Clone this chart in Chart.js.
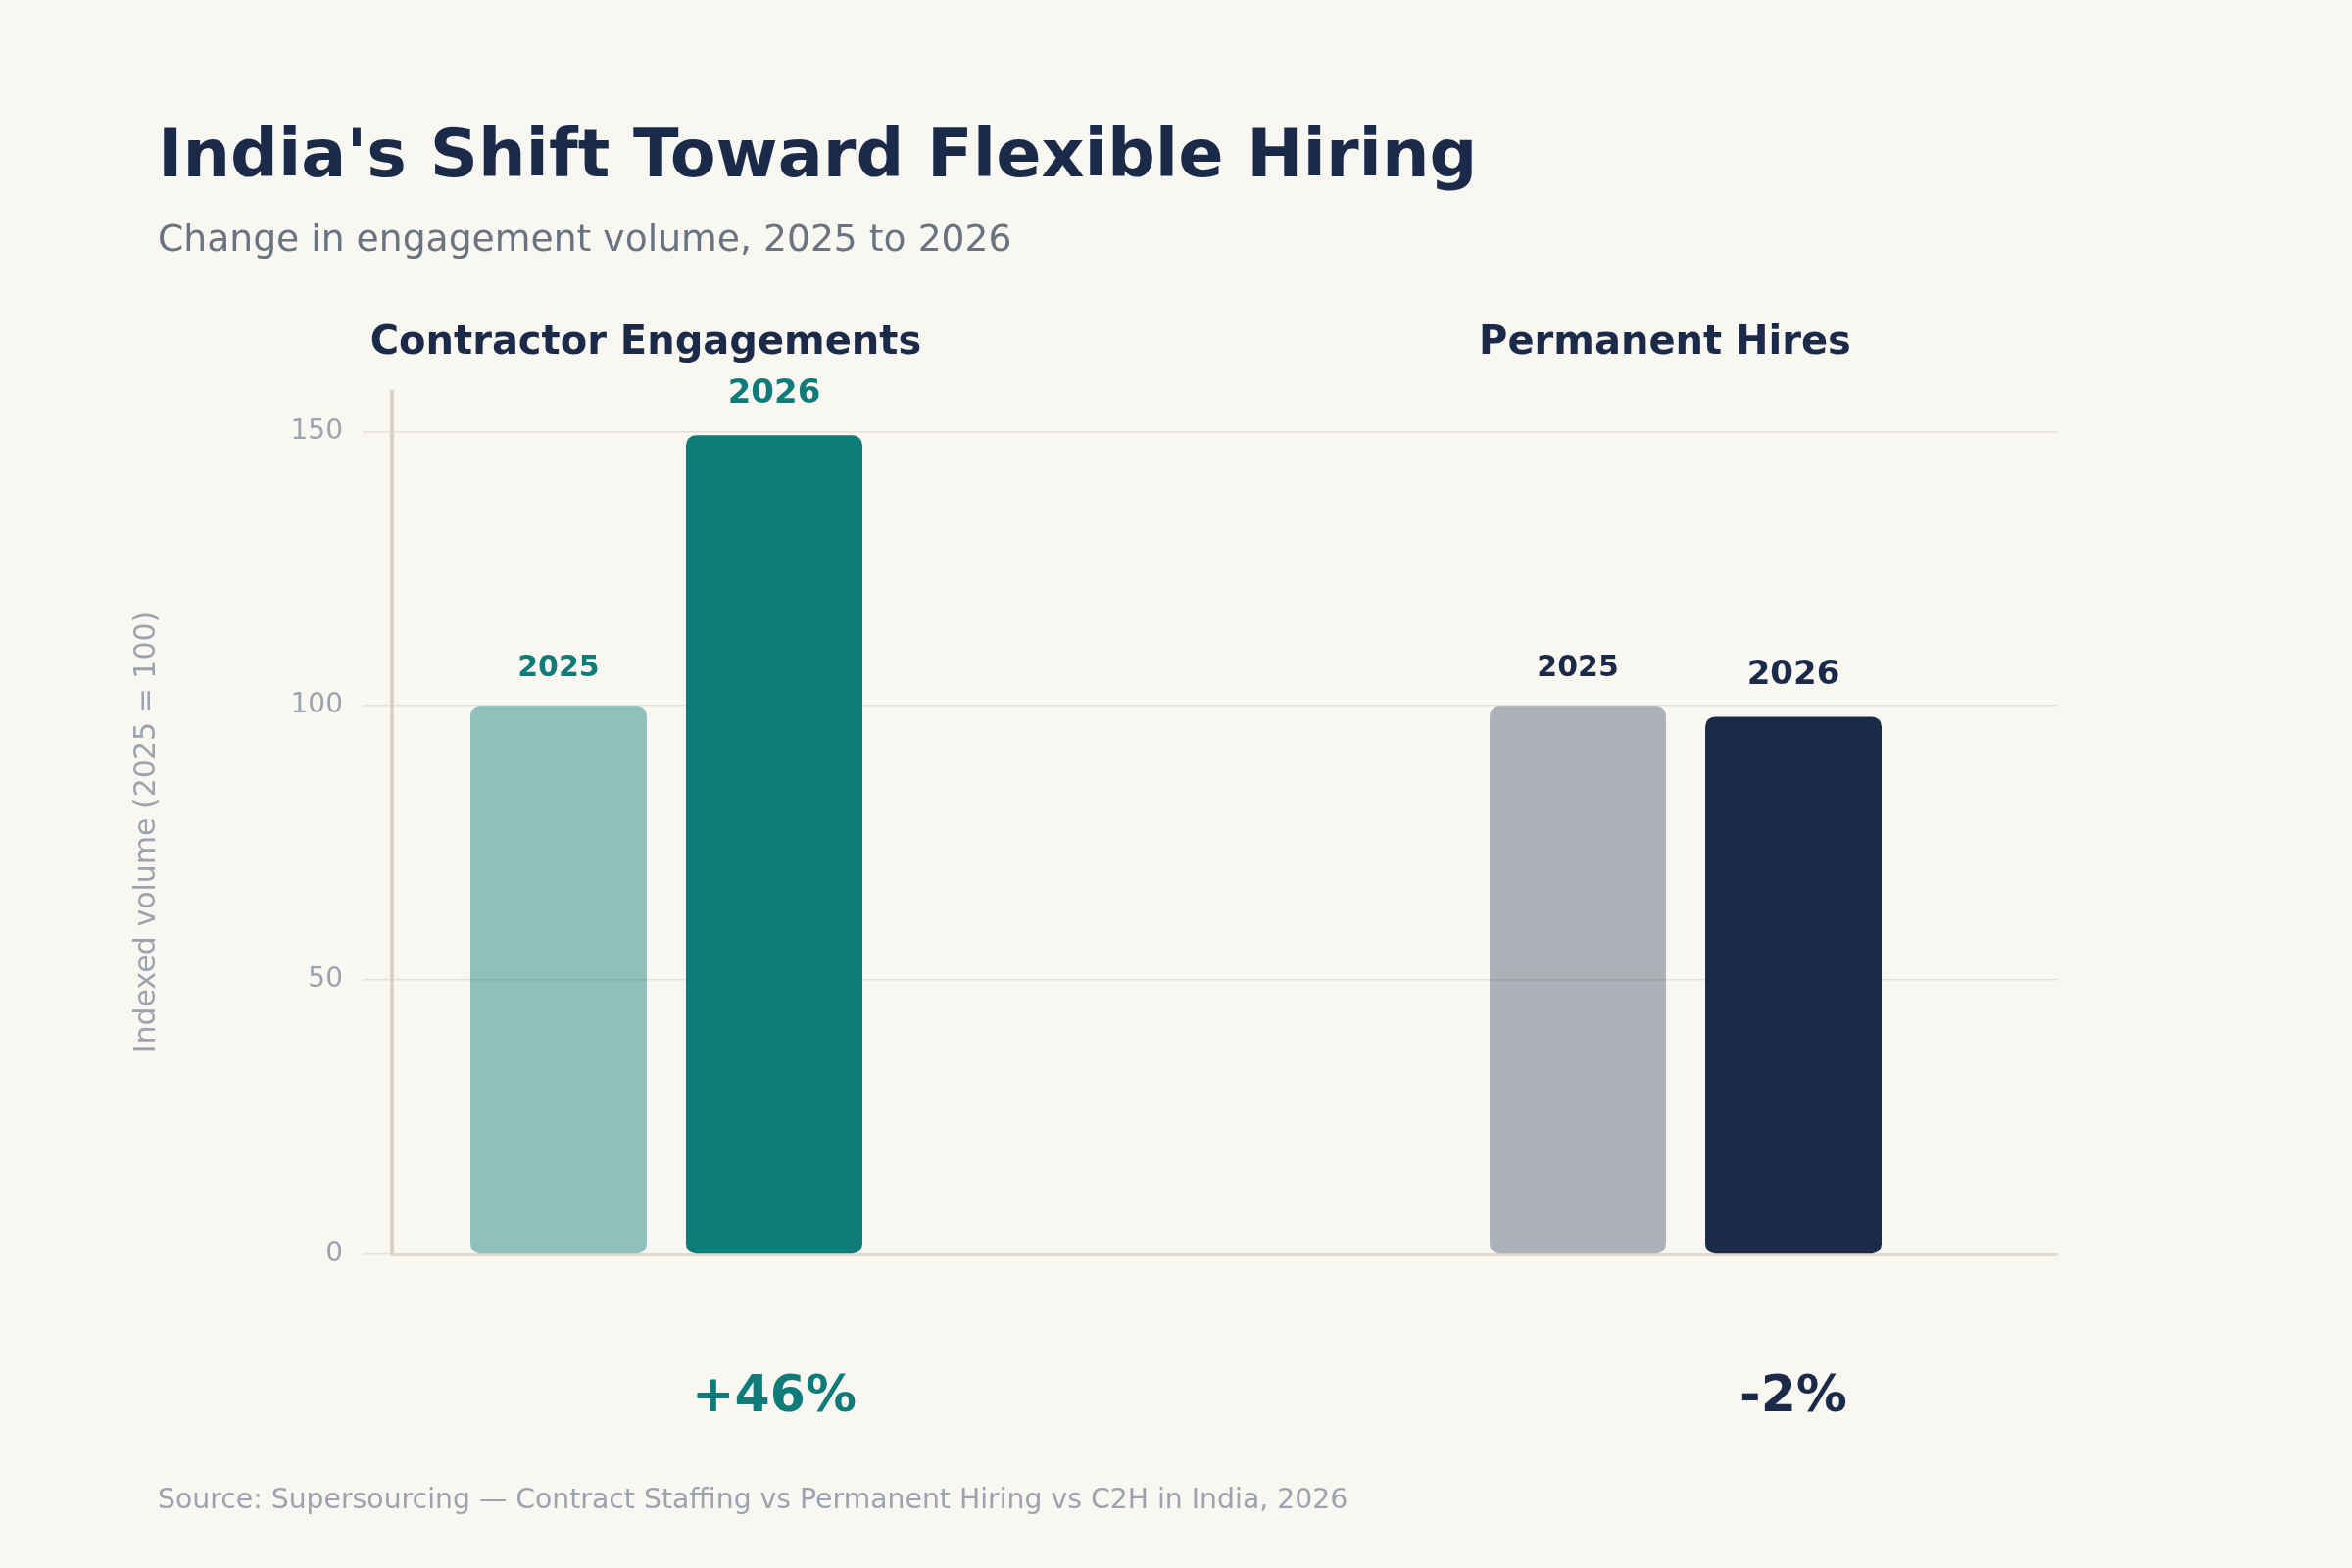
<!DOCTYPE html>
<html>
<head>
<meta charset="utf-8">
<script src="https://cdn.jsdelivr.net/npm/chart.js@4.4.1/dist/chart.umd.min.js"></script>
<style>
  html, body { margin: 0; padding: 0; background: #f9f7f2; }
  #wrap { width: 2400px; height: 1600px; position: relative; }
  canvas { display: block; }
</style>
</head>
<body>
<div id="wrap"><canvas id="c" width="2400" height="1600"></canvas></div>
<script>
// ---- Data ----
const chartTitle = "India's Shift Toward Flexible Hiring";
const chartSubtitle = "Change in engagement volume, 2025 to 2026";
const yAxisTitle = "Indexed volume (2025 = 100)";
const sourceNote = "Source: Supersourcing \u2014 Contract Staffing vs Permanent Hiring vs C2H in India, 2026";
const groups = ['Contractor Engagements', 'Permanent Hires'];
const groupIndex = [0, 1];
const seriesYears = ['2025', '2026'];
const values2025 = [100, 100];
const values2026 = [149.3, 98];
const changeLabels = ['+46%', '-2%'];
const yTickValues = [0, 50, 100, 150];
const yMax = 157.2;
const xRange = [-0.2692, 1.3644];

// ---- Styles ----
const FONT = "'DejaVu Sans', sans-serif";
const NAVY = '#1c2a4a';
const groupColors = ['#0f7c7a', '#1c2a4a'];
const baseColors = ['rgba(15,124,122,0.45)', 'rgba(28,42,74,0.35)'];
const MUTED = '#9ca3af';

const bgPlugin = {
  id: 'bg',
  beforeDraw(chart) {
    const ctx = chart.ctx;
    ctx.save();
    ctx.fillStyle = '#f9f7f2';
    ctx.fillRect(0, 0, chart.width, chart.height);
    ctx.restore();
  }
};

const annotPlugin = {
  id: 'annot',
  afterDatasetsDraw(chart) {
    const ctx = chart.ctx;
    const xs = chart.scales.x;
    const area = chart.chartArea;
    const m25 = chart.getDatasetMeta(0);
    const m26 = chart.getDatasetMeta(1);
    ctx.save();
    // y-axis title
    ctx.save();
    ctx.translate(150, (area.top + area.bottom) / 2 + 9);
    ctx.rotate(-Math.PI / 2);
    ctx.textAlign = 'center';
    ctx.textBaseline = 'middle';
    ctx.fillStyle = MUTED;
    ctx.font = `30px ${FONT}`;
    ctx.fillText(yAxisTitle, 0, 0);
    ctx.restore();

    ctx.textAlign = 'center';
    ctx.textBaseline = 'alphabetic';
    groups.forEach((g, i) => {
      const cx = xs.getPixelForValue(groupIndex[i]);
      ctx.fillStyle = NAVY;
      ctx.font = `bold 40px ${FONT}`;
      ctx.fillText(g, cx - 21, area.top - 39);
      const b25 = m25.data[i];
      const b26 = m26.data[i];
      ctx.fillStyle = groupColors[i];
      ctx.font = `bold 30px ${FONT}`;
      ctx.fillText(seriesYears[0], b25.x, b25.y - 30);
      ctx.font = `bold 34px ${FONT}`;
      ctx.fillText(seriesYears[1], b26.x, b26.y - 33);
      ctx.font = `bold 52px ${FONT}`;
      ctx.fillText(changeLabels[i], b26.x, area.bottom + 160);
    });
    ctx.textAlign = 'left';
    ctx.fillStyle = MUTED;
    ctx.font = `28.3px ${FONT}`;
    ctx.fillText(sourceNote, 161, 1539);
    ctx.restore();
  }
};

const barCommon = {
  borderRadius: 10,
  borderSkipped: false,
  categoryPercentage: 0.4231,
  barPercentage: 0.818
};

new Chart(document.getElementById('c'), {
  type: 'bar',
  data: {
    datasets: [
      Object.assign({
        label: seriesYears[0],
        data: groupIndex.map((x, i) => ({ x: x, y: values2025[i] })),
        backgroundColor: baseColors
      }, barCommon),
      Object.assign({
        label: seriesYears[1],
        data: groupIndex.map((x, i) => ({ x: x, y: values2026[i] })),
        backgroundColor: groupColors
      }, barCommon)
    ]
  },
  options: {
    responsive: false,
    devicePixelRatio: 1,
    animation: false,
    layout: { padding: { top: 0, left: 161, right: 301, bottom: 320 } },
    plugins: {
      legend: { display: false },
      tooltip: { enabled: false },
      title: {
        display: true,
        text: chartTitle,
        align: 'start',
        color: NAVY,
        font: { family: FONT, size: 68.3, weight: 'bold' },
        padding: { top: 121, bottom: 0 }
      },
      subtitle: {
        display: true,
        text: chartSubtitle,
        align: 'start',
        color: '#6b7280',
        font: { family: FONT, size: 37.7, weight: 'normal' },
        padding: { top: 20.3, bottom: 131.5 }
      }
    },
    scales: {
      x: {
        type: 'linear',
        min: xRange[0],
        max: xRange[1],
        offset: false,
        ticks: { display: false, stepSize: 1, includeBounds: false },
        grid: { display: false },
        border: { display: true, color: '#e0dbcf', width: 3 },
        afterFit: (s) => { s.height = 0; }
      },
      y: {
        min: 0,
        max: yMax,
        afterBuildTicks: (s) => { s.ticks = yTickValues.map(v => ({ value: v })); },
        ticks: { color: MUTED, padding: 20, font: { family: FONT, size: 28 } },
        grid: { color: '#e6e1d8', lineWidth: 1.5, tickLength: 30, tickColor: '#e6e1d8' },
        border: { display: true, color: '#d8d3c6', width: 4 },
        title: { display: false, text: yAxisTitle },
        afterFit: (s) => { s.width = 239; }
      }
    }
  },
  plugins: [bgPlugin, annotPlugin]
});
</script>
</body>
</html>
